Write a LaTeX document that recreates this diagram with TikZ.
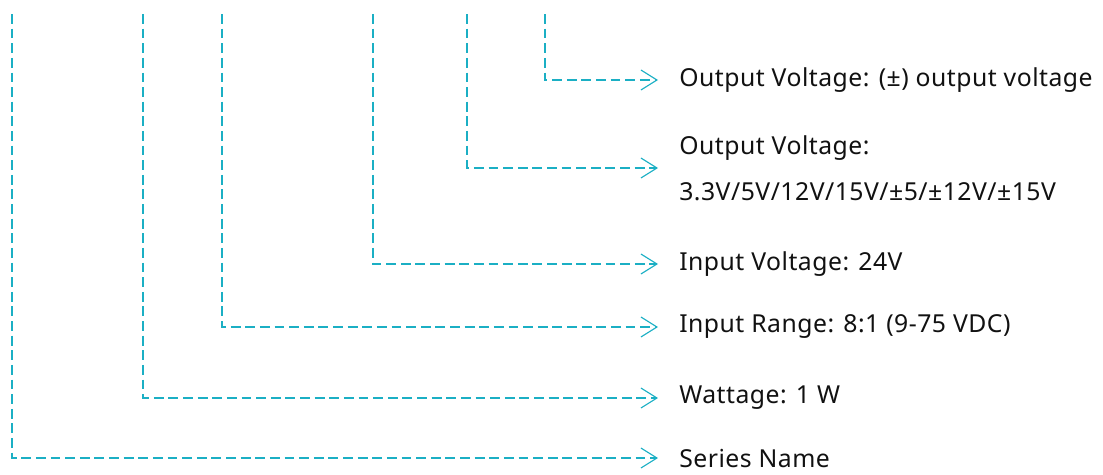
\documentclass[tikz,border=0pt]{standalone}
\usepackage{fontspec}
\setmainfont[LetterSpace=2]{Noto Sans}
\usetikzlibrary{arrows.meta}
\definecolor{kodMavi}{HTML}{1BAFC4}
\definecolor{yaziSiyah}{HTML}{111111}

\begin{document}
\begin{tikzpicture}[x=0.025cm,y=-0.025cm,
  etiket/.style={anchor=west,inner ysep=0pt,inner xsep=0.525cm,align=left,
    text=yaziSiyah,font=\fontsize{17.6}{32.5}\selectfont},
  kodcizgi/.style={kodMavi,line width=0.9pt,dash pattern=on 7pt off 3.4pt,
    -{Straight Barb[length=0.4cm,width=0.5cm,line width=0.8pt]}}]
\useasboundingbox (0,0) rectangle (1103,474);
\foreach \x/\y/\ad/\yazi in {
    545/80/cikis/{Output Voltage: (±) output voltage},
    467/168/secenek/{Output Voltage:\\3.3V/5V/12V/15V/±5/±12V/±15V},
    373/264/giris/{Input Voltage: 24V},
    222/327/aralik/{Input Range: 8:1 (9-75 VDC)},
    143/398/guc/{Wattage: 1 W},
    12/458/seri/{Series Name}}{
  \coordinate (ust-\ad) at (\x,14);
  \node[etiket] (\ad) at (658,\y) {\yazi};
  \draw[kodcizgi] (ust-\ad) |- (\ad.west);
}
\end{tikzpicture}
\end{document}
